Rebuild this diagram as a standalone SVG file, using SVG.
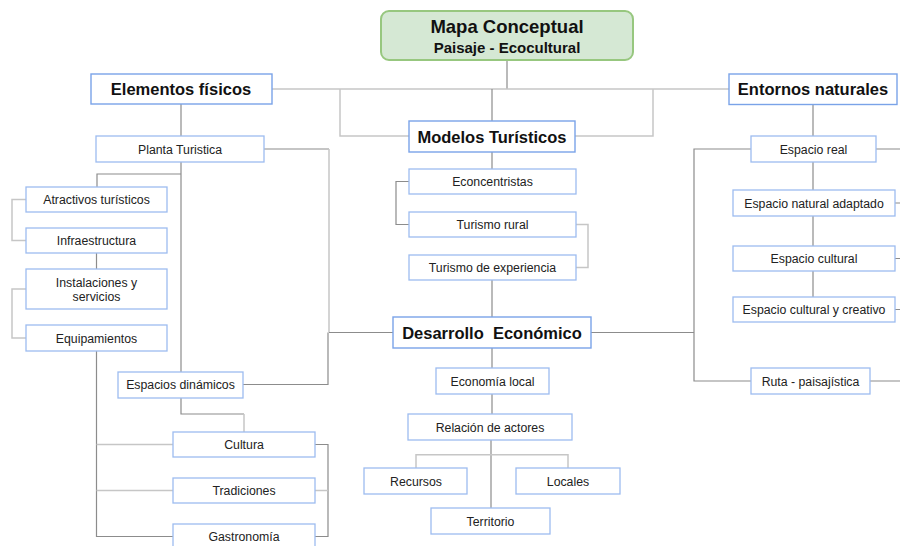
<svg xmlns="http://www.w3.org/2000/svg" width="900" height="546" viewBox="0 0 900 546">
<style>
.d{fill:none;stroke:#8c8c8c;stroke-width:1.2}
.l{fill:none;stroke:#c6c6c6;stroke-width:1.5}
.b{fill:#fff;stroke:#9dbcf0;stroke-width:1.3}
.B{fill:#fff;stroke:#7aa3e8;stroke-width:1.4}
.t{font-family:"Liberation Sans",Arial,sans-serif;font-size:12.3px;fill:#222;text-anchor:middle}
.T{font-family:"Liberation Sans",Arial,sans-serif;font-size:16.5px;font-weight:bold;fill:#111;text-anchor:middle}
</style>
<rect width="900" height="546" fill="#fff"/>
<g id="connectors">
<path class="d" d="M507,60V89"/>
<path class="l" d="M272,89H729"/>
<path class="l" d="M340,89V136H409"/>
<path class="l" d="M653,89V136H575"/>
<path class="d" d="M492,89V121"/>
<path class="d" d="M492,152V169"/>
<path class="d" d="M409,181.5H396V224.5H409"/>
<path class="l" d="M576,224.5H588V267.5H576"/>
<path class="d" d="M492,280V317"/>
<path class="d" d="M181,104V136"/>
<path class="d" d="M264,149H329"/>
<path class="l" d="M329,149V332.5"/>
<path class="d" d="M393,332.5H329"/>
<path class="d" d="M243,384.5H328V332.5"/>
<path class="d" d="M181,162V372"/>
<path class="d" d="M181,174H97V187"/>
<path class="l" d="M26,199.5H12V240.5H26"/>
<path class="d" d="M96.5,253V269"/>
<path class="l" d="M26,289H12V338H26"/>
<path class="d" d="M96.5,351V536.5H173"/>
<path class="l" d="M96.5,444.5H173M96.5,490.5H173"/>
<path class="d" d="M181,398V414H244"/>
<path class="l" d="M244,414V432"/>
<path class="d" d="M315,444.5H328V536.5H315"/>
<path class="l" d="M315,490.5H328"/>
<path class="d" d="M492,348V368"/>
<path class="d" d="M492,394V414"/>
<path class="d" d="M491,440V508"/>
<path class="l" d="M416,468V454.7H568V468"/>
<path class="d" d="M813,104.6V136"/>
<path class="d" d="M813,162V297"/>
<path class="d" d="M751,149H694V381H751"/>
<path class="d" d="M591,332.5H694"/>
<path class="d" d="M876,149H900M895,203H900M895,258.5H900M895,309.5H900M870,381H900"/>
</g>
<g id="title">
<rect x="381" y="11" width="252" height="49" rx="8" fill="#d5e8d4" stroke="#97c77f" stroke-width="2"/>
<text x="507" y="33" class="T" style="font-size:18.5px">Mapa Conceptual</text>
<text x="507" y="52.5" class="T" style="font-size:15px">Paisaje - Ecocultural</text>
</g>
<g id="elementos"><rect class="B" x="91" y="74" width="181" height="30"/><text class="T" x="181" y="95">Elementos físicos</text></g>
<g id="entornos"><rect class="B" x="729" y="74" width="168" height="30.5"/><text class="T" x="813" y="95">Entornos naturales</text></g>
<g id="modelos"><rect class="B" x="409" y="121" width="166" height="31" /><text class="T" x="492" y="142.5">Modelos Turísticos</text></g>
<g id="econcentristas"><rect class="b" x="409" y="169" width="167" height="25"/><text class="t" x="492.5" y="186">Econcentristas</text></g>
<g id="rural"><rect class="b" x="409" y="212" width="167" height="25"/><text class="t" x="492.5" y="229">Turismo rural</text></g>
<g id="experiencia"><rect class="b" x="409" y="255" width="167" height="25"/><text class="t" x="492.5" y="272">Turismo de experiencia</text></g>
<g id="desarrollo"><rect class="B" x="393" y="317" width="198" height="31"/><text class="T" x="492" y="338.5" xml:space="preserve">Desarrollo  Económico</text></g>
<g id="planta"><rect class="b" x="96" y="136" width="168" height="26"/><text class="t" x="180" y="153.5">Planta Turistica</text></g>
<g id="atractivos"><rect class="b" x="26" y="187" width="141" height="25"/><text class="t" x="96.5" y="203.5">Atractivos turísticos</text></g>
<g id="infraestructura"><rect class="b" x="26" y="228" width="141" height="25"/><text class="t" x="96.5" y="244.5">Infraestructura</text></g>
<g id="instalaciones"><rect class="b" x="26" y="269" width="141" height="40"/><text class="t" x="96.5" y="287">Instalaciones y</text><text class="t" x="96.5" y="301">servicios</text></g>
<g id="equipamientos"><rect class="b" x="26" y="325" width="141" height="26"/><text class="t" x="96.5" y="342.5">Equipamientos</text></g>
<g id="espacios-dinamicos"><rect class="b" x="118" y="372" width="125" height="26"/><text class="t" x="180.5" y="389">Espacios dinámicos</text></g>
<g id="cultura"><rect class="b" x="173" y="432" width="142" height="25"/><text class="t" x="244" y="448.5">Cultura</text></g>
<g id="tradiciones"><rect class="b" x="173" y="478" width="142" height="25"/><text class="t" x="244" y="494.5">Tradiciones</text></g>
<g id="gastronomia"><rect class="b" x="173" y="524" width="142" height="25"/><text class="t" x="244" y="541">Gastronomía</text></g>
<g id="economia-local"><rect class="b" x="436" y="368" width="113" height="26"/><text class="t" x="492.5" y="385.5">Economía local</text></g>
<g id="relacion"><rect class="b" x="408" y="414" width="164" height="26"/><text class="t" x="490" y="431.5">Relación de actores</text></g>
<g id="recursos"><rect class="b" x="364" y="468" width="103" height="26"/><text class="t" x="416" y="485.5">Recursos</text></g>
<g id="locales"><rect class="b" x="516" y="468" width="104" height="26"/><text class="t" x="568" y="485.5">Locales</text></g>
<g id="territorio"><rect class="b" x="431" y="508" width="119" height="26"/><text class="t" x="490.5" y="525.5">Territorio</text></g>
<g id="espacio-real"><rect class="b" x="751" y="136" width="125" height="26"/><text class="t" x="813.5" y="153.5">Espacio real</text></g>
<g id="espacio-natural"><rect class="b" x="733" y="190" width="162" height="26"/><text class="t" x="814" y="207.5">Espacio natural adaptado</text></g>
<g id="espacio-cultural"><rect class="b" x="733" y="246" width="162" height="25"/><text class="t" x="814" y="262.5">Espacio cultural</text></g>
<g id="espacio-creativo"><rect class="b" x="733" y="297" width="162" height="25"/><text class="t" x="814" y="313.5">Espacio cultural y creativo</text></g>
<g id="ruta"><rect class="b" x="751" y="368" width="119" height="26"/><text class="t" x="810.5" y="385.5">Ruta - paisajística</text></g>
</svg>
